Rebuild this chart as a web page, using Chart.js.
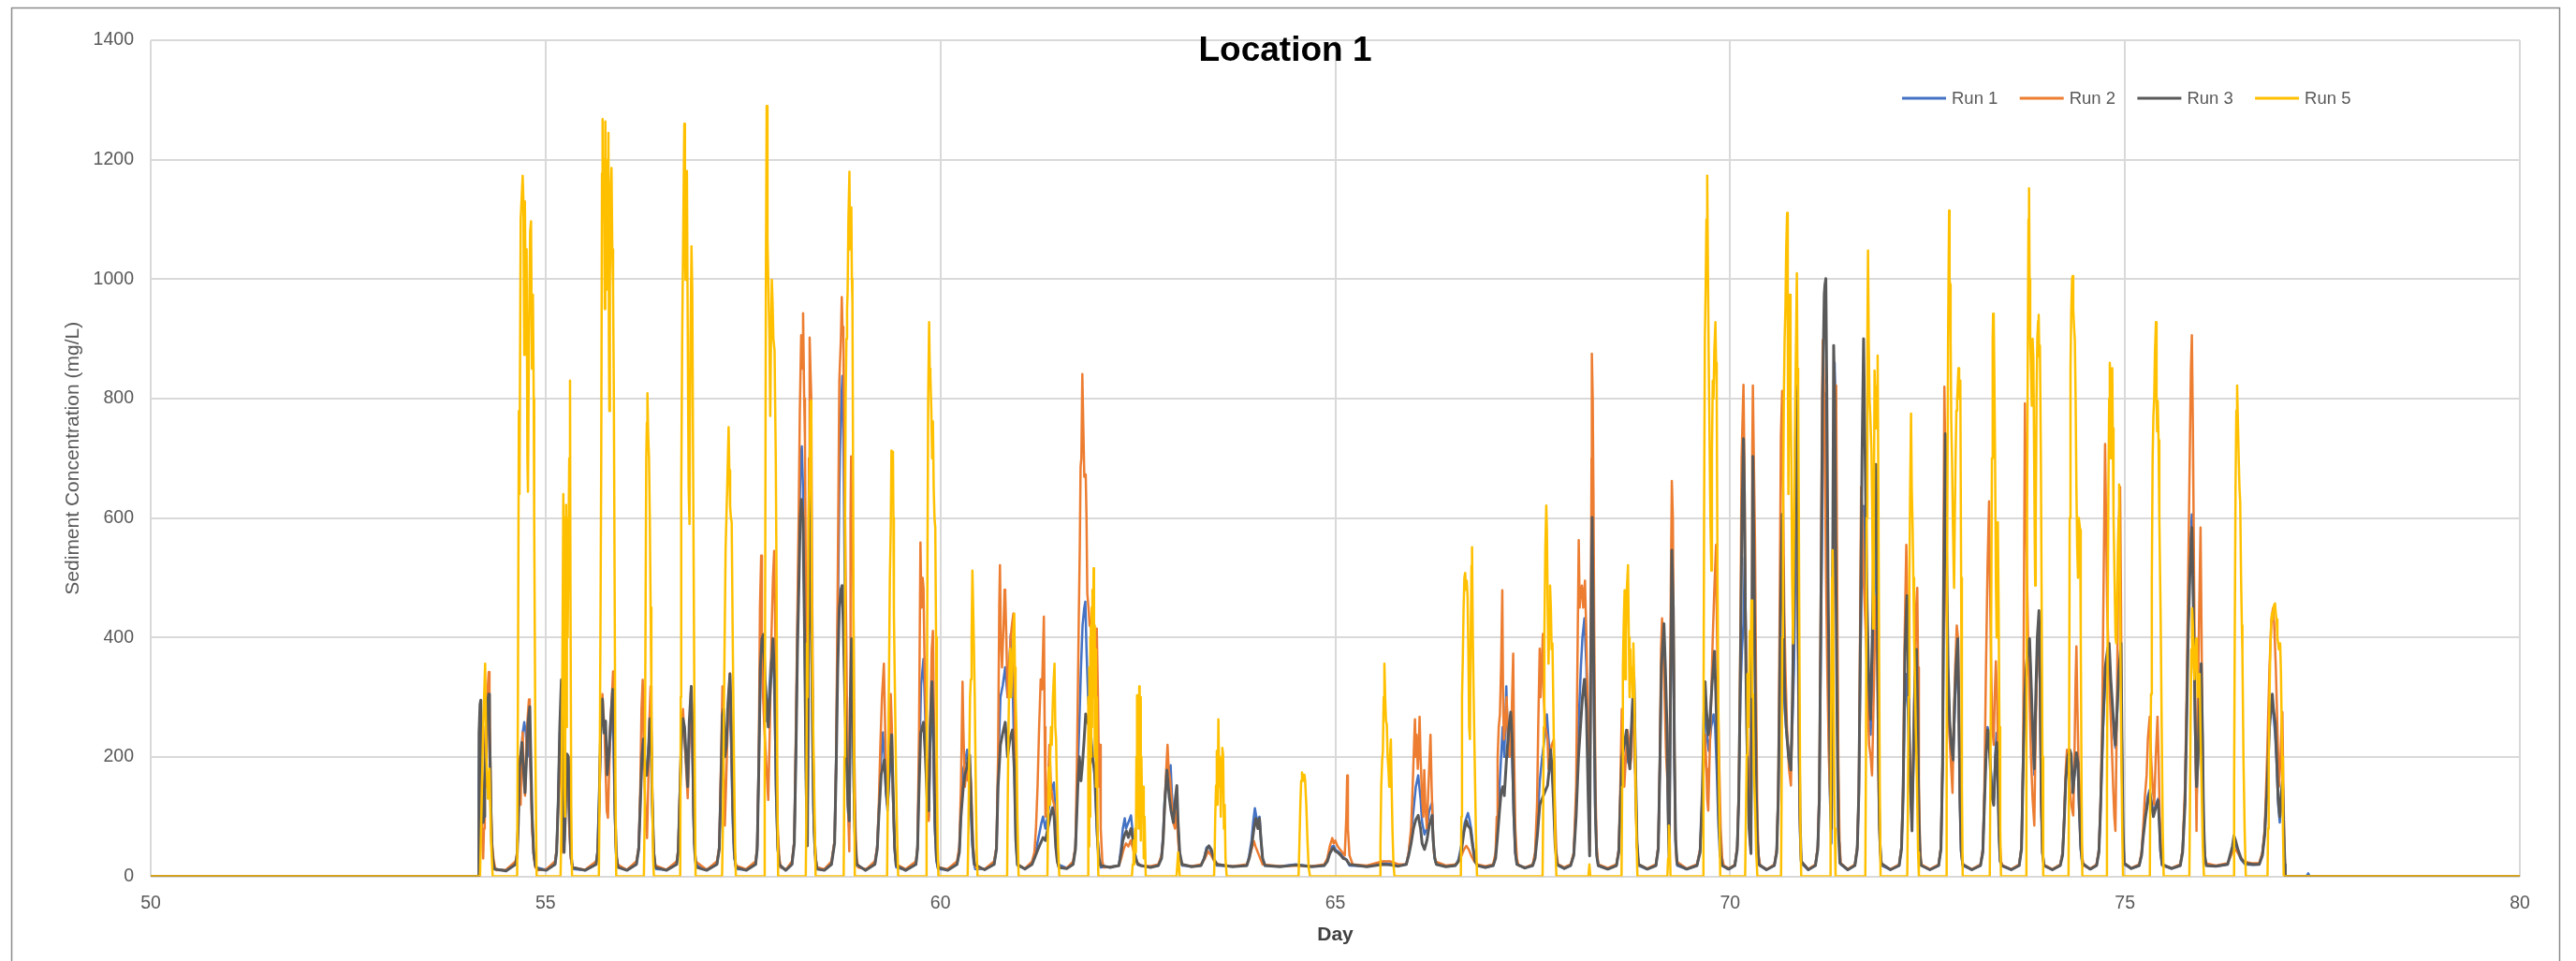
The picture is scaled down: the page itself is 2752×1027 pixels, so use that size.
<!DOCTYPE html>
<html>
<head>
<meta charset="utf-8">
<title>Location 1</title>
<script src="https://cdn.jsdelivr.net/npm/chart.js@4.4.1/dist/chart.umd.min.js"></script>
<style>
  html, body { margin: 0; padding: 0; background: #ffffff; }
  #wrap { width: 2752px; height: 1027px; position: relative; }
</style>
</head>
<body>
<div id="wrap"><canvas id="chart" width="2752" height="1027"></canvas></div>
<script>
// Labels
const chartTitle = 'Location 1';
const xAxisTitle = 'Day';
const yAxisTitle = 'Sediment Concentration (mg/L)';
const seriesNames = ['Run 1', 'Run 2', 'Run 3', 'Run 5'];

// Axis ranges and tick steps
const xRange = [50, 80];
const xStep = 5;
const yRange = [0, 1400];
const yStep = 200;

// [day, concentration mg/L]
const run1 = [
[50,0],[54.15,0],
[54.153,150],[54.165,270],[54.18,260],[54.19,180],[54.2,110],[54.22,90],[54.24,190],[54.26,250],[54.28,280],[54.3,160],[54.32,50],[54.34,20],[54.36,12],
[54.5,10],
[54.62,20],[54.64,40],[54.655,100],[54.67,170],[54.69,200],[54.71,240],[54.73,258],[54.75,240],[54.77,200],[54.79,230],[54.81,180],[54.83,90],[54.85,35],[54.88,15],
[55.0,11],
[55.12,20],[55.14,45],[55.16,130],[55.18,240],[55.2,280],[55.22,90],[55.24,60],[55.26,150],[55.28,180],[55.3,90],[55.32,30],[55.35,12],
[55.5,10],
[55.64,20],[55.66,45],[55.68,140],[55.7,250],[55.72,260],[55.74,250],[55.76,229],[55.78,180],[55.8,190],[55.83,250],[55.855,270],[55.87,150],[55.89,40],[55.92,15],
[56.03,11],
[56.15,20],[56.18,50],[56.2,130],[56.22,200],[56.24,220],[56.26,170],[56.28,180],[56.3,210],[56.32,240],[56.34,200],[56.36,70],[56.38,25],[56.4,12],
[56.53,11],
[56.66,20],[56.68,45],[56.7,140],[56.72,220],[56.74,260],[56.76,230],[56.78,190],[56.8,170],[56.82,240],[56.845,280],[56.86,200],[56.88,60],[56.9,20],
[57.04,11],
[57.17,20],[57.2,50],[57.22,160],[57.24,250],[57.26,240],[57.28,200],[57.3,250],[57.33,300],[57.35,220],[57.37,90],[57.39,30],[57.42,12],
[57.54,11],
[57.66,20],[57.68,50],[57.7,190],[57.72,330],[57.74,380],[57.76,350],[57.78,300],[57.8,260],[57.83,300],[57.85,355],[57.88,380],[57.9,300],[57.92,130],[57.94,45],[57.97,15],
[58.05,11],
[58.12,20],[58.15,60],[58.17,220],[58.19,420],[58.21,560],[58.23,700],[58.245,720],[58.26,650],[58.28,420],[58.3,150],[58.316,60],[58.33,420],[58.344,640],[58.36,500],[58.375,300],[58.39,120],[58.41,40],[58.44,15],
[58.53,11],
[58.62,20],[58.66,60],[58.68,200],[58.7,420],[58.72,650],[58.74,780],[58.759,838],[58.775,700],[58.79,450],[58.81,250],[58.83,110],[58.846,80],[58.86,280],[58.875,390],[58.89,280],[58.905,130],[58.92,50],[58.94,18],
[59.05,11],
[59.17,20],[59.2,50],[59.22,110],[59.25,200],[59.272,241],[59.29,200],[59.31,140],[59.33,110],[59.36,180],[59.38,210],[59.4,130],[59.42,45],[59.44,15],
[59.56,11],
[59.69,20],[59.71,50],[59.73,180],[59.755,320],[59.786,364],[59.81,260],[59.835,150],[59.853,100],[59.87,220],[59.893,300],[59.91,220],[59.93,80],[59.95,25],[59.97,12],
[60.09,11],
[60.21,20],[60.24,45],[60.26,110],[60.29,180],[60.31,190],[60.339,212],[60.36,180],[60.38,130],[60.4,60],[60.42,25],[60.44,12],
[60.56,12],
[60.68,20],[60.71,50],[60.73,170],[60.76,300],[60.79,320],[60.82,350],[60.85,300],[60.87,350],[60.892,406],[60.91,350],[60.935,200],[60.955,60],[60.975,18],
[61.07,13],
[61.16,20],[61.19,35],[61.22,50],[61.25,70],[61.28,90],[61.3,100],[61.33,80],[61.37,110],[61.4,140],[61.437,157],[61.45,120],[61.47,50],[61.49,20],
[61.6,14],
[61.68,20],[61.71,50],[61.74,180],[61.76,260],[61.78,350],[61.8,420],[61.821,449],[61.835,460],[61.85,380],[61.87,300],[61.9,250],[61.93,200],[61.96,160],[61.98,80],[62.0,30],[62.03,15],
[62.15,16],
[62.26,18],[62.29,50],[62.31,80],[62.334,97],[62.35,80],[62.38,90],[62.413,102],[62.43,80],[62.46,40],[62.5,20],[62.54,18],
[62.66,16],
[62.76,18],[62.8,35],[62.82,70],[62.84,130],[62.87,170],[62.9,180],[62.915,186],[62.93,140],[62.95,100],[62.975,120],[62.99,140],[63.01,80],[63.03,35],[63.06,18],
[63.18,17],
[63.3,18],[63.34,30],[63.37,48],[63.4,51],[63.43,40],[63.47,25],[63.5,18],
[63.7,17],
[63.88,18],[63.91,35],[63.94,60],[63.96,90],[63.982,114],[64.0,100],[64.02,90],[64.04,100],[64.06,60],[64.08,30],[64.11,18],
[64.3,17],[64.5,20],[64.7,17],
[64.86,18],[64.9,28],[64.93,42],[64.96,50],[64.98,51],[65.0,45],[65.03,42],[65.07,38],[65.1,32],[65.14,28],[65.18,18],
[65.4,17],[65.6,22],[65.7,21],[65.8,18],
[65.9,20],[65.93,40],[65.96,70],[65.99,110],[66.02,150],[66.05,169],[66.08,130],[66.1,90],[66.13,70],[66.16,80],[66.19,110],[66.226,123],[66.24,60],[66.26,30],[66.28,20],
[66.4,17],
[66.52,18],[66.56,28],[66.6,55],[66.64,90],[66.68,106],[66.7,95],[66.72,80],[66.75,45],[66.78,22],[66.81,18],
[66.9,15],
[67.0,18],[67.03,35],[67.05,80],[67.08,150],[67.1,200],[67.12,250],[67.14,200],[67.166,318],[67.18,250],[67.2,200],[67.22,240],[67.24,200],[67.26,100],[67.28,40],[67.3,20],
[67.4,14],
[67.5,18],[67.53,35],[67.56,90],[67.59,160],[67.62,200],[67.65,230],[67.68,271],[67.7,230],[67.72,200],[67.74,180],[67.76,150],[67.78,80],[67.8,30],[67.82,18],
[67.9,13],
[67.98,18],[68.02,38],[68.05,120],[68.08,250],[68.11,350],[68.13,400],[68.155,432],[68.18,350],[68.2,200],[68.221,60],[68.235,400],[68.249,656],[68.26,500],[68.275,300],[68.29,120],[68.31,40],[68.33,18],
[68.45,12],
[68.56,18],[68.59,45],[68.61,130],[68.63,210],[68.66,230],[68.69,230],[68.71,190],[68.73,190],[68.76,270],[68.78,300],[68.8,180],[68.82,55],[68.84,18],
[68.95,12],
[69.06,18],[69.09,50],[69.11,190],[69.13,360],[69.15,398],[69.17,340],[69.2,240],[69.215,110],[69.228,40],[69.245,280],[69.265,500],[69.28,420],[69.295,180],[69.31,50],[69.33,18],
[69.45,12],
[69.58,18],[69.62,45],[69.65,140],[69.67,250],[69.69,280],[69.71,230],[69.73,210],[69.76,250],[69.79,271],[69.81,250],[69.83,180],[69.85,90],[69.87,35],[69.9,18],
[69.98,12],
[70.06,18],[70.09,50],[70.11,140],[70.13,300],[70.15,380],[70.17,424],[70.185,534],[70.2,400],[70.215,250],[70.23,150],[70.25,70],[70.264,50],[70.275,300],[70.29,500],[70.305,450],[70.32,300],[70.335,130],[70.35,50],[70.37,18],
[70.46,11],
[70.56,18],[70.59,45],[70.61,140],[70.63,300],[70.65,400],[70.67,350],[70.69,280],[70.72,230],[70.75,200],[70.77,190],[70.79,260],[70.809,347],[70.825,500],[70.84,600],[70.855,450],[70.87,200],[70.885,70],[70.9,22],
[70.99,11],
[71.08,18],[71.11,50],[71.13,140],[71.15,400],[71.17,650],[71.185,780],[71.204,809],[71.22,600],[71.24,350],[71.26,150],[71.275,80],[71.283,55],[71.3,500],[71.323,860],[71.335,780],[71.35,450],[71.365,200],[71.38,60],[71.4,20],
[71.49,11],
[71.58,18],[71.61,50],[71.63,140],[71.65,350],[71.67,550],[71.69,620],[71.71,500],[71.73,380],[71.76,260],[71.78,237],[71.8,330],[71.83,500],[71.848,560],[71.865,400],[71.88,180],[71.9,50],[71.92,18],
[72.03,11],
[72.14,18],[72.17,50],[72.19,140],[72.21,280],[72.231,339],[72.25,280],[72.27,180],[72.3,100],[72.32,180],[72.345,300],[72.365,330],[72.38,200],[72.395,70],[72.41,25],[72.43,18],
[72.53,11],
[72.64,18],[72.67,50],[72.69,190],[72.705,450],[72.725,650],[72.74,500],[72.76,320],[72.78,240],[72.8,200],[72.82,190],[72.84,260],[72.86,330],[72.88,370],[72.895,280],[72.91,120],[72.925,40],[72.945,18],
[73.06,11],
[73.17,18],[73.2,45],[73.22,130],[73.24,210],[73.26,250],[73.28,240],[73.3,180],[73.32,140],[73.34,130],[73.36,210],[73.375,240],[73.39,170],[73.405,70],[73.42,25],[73.44,18],
[73.56,11],
[73.66,18],[73.69,50],[73.71,190],[73.73,290],[73.75,330],[73.775,360],[73.795,370],[73.815,300],[73.835,230],[73.852,170],[73.87,280],[73.89,370],[73.91,400],[73.925,300],[73.94,120],[73.955,40],[73.975,18],
[74.08,11],
[74.18,18],[74.21,40],[74.23,95],[74.25,165],[74.275,200],[74.3,205],[74.32,190],[74.34,150],[74.36,170],[74.385,200],[74.405,180],[74.42,110],[74.44,45],[74.46,20],
[74.56,12],
[74.64,18],[74.67,45],[74.69,115],[74.72,240],[74.75,330],[74.78,360],[74.8,370],[74.82,320],[74.845,270],[74.865,230],[74.88,215],[74.9,270],[74.92,330],[74.945,370],[74.96,230],[74.975,75],[74.99,20],
[75.08,13],
[75.18,18],[75.21,38],[75.23,70],[75.26,110],[75.29,135],[75.313,145],[75.33,130],[75.36,105],[75.39,120],[75.42,130],[75.435,90],[75.45,40],[75.47,18],
[75.59,13],
[75.7,18],[75.73,45],[75.76,130],[75.78,270],[75.8,420],[75.825,550],[75.847,606],[75.86,520],[75.875,380],[75.89,230],[75.906,130],[75.925,190],[75.945,290],[75.965,340],[75.98,240],[75.995,90],[76.01,30],[76.03,18],
[76.15,17],
[76.3,20],[76.36,45],[76.38,60],[76.4,55],[76.43,40],[76.47,28],[76.52,20],
[76.62,19],
[76.7,20],[76.74,38],[76.77,75],[76.8,160],[76.83,260],[76.86,290],[76.88,270],[76.9,240],[76.92,190],[76.94,120],[76.96,90],[76.98,130],[76.995,150],[77.01,70],[77.025,15],[77.03,0],[77.3,0],[77.32,5],[77.34,0],[80,0]
];

const run2 = [
[50,0],[54.155,0],
[54.16,100],[54.17,200],[54.18,220],[54.19,120],[54.2,60],[54.21,30],[54.22,80],[54.23,180],[54.24,250],[54.25,150],[54.26,250],[54.27,320],[54.28,342],[54.29,300],[54.3,200],[54.31,120],[54.32,60],[54.34,30],[54.36,15],[54.38,10],
[54.5,11],
[54.62,25],[54.64,40],[54.655,100],[54.665,200],[54.675,150],[54.685,120],[54.695,200],[54.71,241],[54.72,190],[54.73,150],[54.74,135],[54.75,180],[54.76,230],[54.775,270],[54.79,296],[54.8,250],[54.815,150],[54.83,80],[54.85,35],[54.87,15],[54.9,10],
[55.01,12],
[55.12,25],[55.14,45],[55.16,120],[55.18,200],[55.19,235],[55.2,150],[55.21,60],[55.22,40],[55.24,100],[55.26,180],[55.28,203],[55.29,150],[55.3,80],[55.32,30],[55.34,15],
[55.5,11],
[55.64,25],[55.66,40],[55.68,120],[55.7,250],[55.72,305],[55.73,280],[55.745,250],[55.76,180],[55.775,110],[55.79,98],[55.8,150],[55.82,250],[55.84,300],[55.855,343],[55.865,280],[55.875,150],[55.89,50],[55.91,20],
[56.03,11],
[56.15,25],[56.18,50],[56.2,150],[56.215,280],[56.23,329],[56.24,250],[56.255,150],[56.27,90],[56.285,64],[56.3,150],[56.315,260],[56.33,318],[56.34,250],[56.355,120],[56.37,40],[56.39,18],
[56.53,11],
[56.66,25],[56.68,45],[56.7,140],[56.72,240],[56.74,280],[56.76,230],[56.78,180],[56.8,131],[56.82,220],[56.84,309],[56.855,280],[56.87,140],[56.885,60],[56.9,25],
[57.04,11],
[57.17,25],[57.2,50],[57.22,180],[57.24,318],[57.25,250],[57.26,120],[57.27,85],[57.285,150],[57.3,220],[57.32,300],[57.335,340],[57.35,250],[57.37,120],[57.39,40],[57.41,18],
[57.54,12],
[57.66,25],[57.68,50],[57.7,200],[57.715,450],[57.73,537],[57.74,400],[57.755,300],[57.77,250],[57.79,200],[57.81,150],[57.82,128],[57.84,250],[57.86,400],[57.88,500],[57.895,545],[57.91,400],[57.925,200],[57.94,80],[57.96,30],[57.98,15],
[58.05,12],
[58.12,25],[58.15,60],[58.17,250],[58.19,450],[58.206,610],[58.22,780],[58.237,906],[58.25,850],[58.261,943],[58.275,800],[58.285,729],[58.295,500],[58.305,250],[58.316,76],[58.325,300],[58.335,700],[58.344,902],[58.354,850],[58.364,805],[58.375,500],[58.39,200],[58.403,80],[58.42,30],[58.44,15],
[58.53,12],
[58.62,25],[58.66,60],[58.68,200],[58.7,500],[58.72,830],[58.74,900],[58.751,970],[58.76,920],[58.771,906],[58.785,700],[58.8,500],[58.815,300],[58.83,120],[58.846,42],[58.855,300],[58.862,600],[58.869,703],[58.88,600],[58.897,474],[58.91,200],[58.925,80],[58.94,30],[58.96,15],
[59.06,12],
[59.17,25],[59.2,50],[59.22,120],[59.24,220],[59.26,300],[59.284,356],[59.3,250],[59.315,150],[59.33,119],[59.35,200],[59.371,305],[59.385,250],[59.4,130],[59.42,50],[59.44,20],
[59.56,12],
[59.69,25],[59.71,50],[59.73,250],[59.747,559],[59.76,450],[59.775,500],[59.786,483],[59.8,350],[59.82,250],[59.84,150],[59.853,93],[59.87,250],[59.89,380],[59.905,411],[59.92,250],[59.94,80],[59.96,30],[59.98,15],
[60.09,12],
[60.21,25],[60.24,50],[60.26,150],[60.28,326],[60.29,250],[60.31,150],[60.33,180],[60.35,160],[60.37,190],[60.39,150],[60.41,60],[60.43,25],[60.45,15],
[60.56,12],
[60.68,25],[60.71,50],[60.73,200],[60.745,450],[60.754,521],[60.765,400],[60.78,350],[60.8,420],[60.812,480],[60.821,474],[60.835,400],[60.85,300],[60.87,350],[60.89,400],[60.905,420],[60.924,440],[60.935,350],[60.95,150],[60.965,50],[60.98,20],
[61.07,13],
[61.16,25],[61.19,40],[61.21,80],[61.23,150],[61.25,250],[61.27,330],[61.287,313],[61.3,380],[61.31,435],[61.32,250],[61.33,100],[61.35,120],[61.37,180],[61.38,220],[61.4,150],[61.42,130],[61.44,120],[61.46,60],[61.48,25],[61.5,15],
[61.6,14],
[61.68,25],[61.71,50],[61.73,200],[61.753,440],[61.765,550],[61.775,686],[61.785,700],[61.797,841],[61.81,750],[61.822,669],[61.84,673],[61.85,600],[61.86,474],[61.875,450],[61.89,420],[61.91,415],[61.93,300],[61.95,350],[61.965,400],[61.98,415],[61.995,300],[62.01,150],[62.02,220],[62.03,80],[62.05,25],[62.07,15],
[62.17,16],
[62.26,18],[62.29,30],[62.32,45],[62.35,55],[62.38,50],[62.41,60],[62.44,45],[62.47,30],[62.5,22],[62.54,18],
[62.66,17],
[62.76,20],[62.8,35],[62.82,60],[62.84,120],[62.86,180],[62.876,220],[62.89,180],[62.91,160],[62.93,120],[62.95,90],[62.97,80],[62.99,110],[63.01,60],[63.03,30],[63.06,20],
[63.18,17],
[63.3,20],[63.35,30],[63.39,42],[63.43,35],[63.47,25],[63.52,20],
[63.7,17],
[63.88,20],[63.91,30],[63.94,45],[63.97,59],[63.99,50],[64.02,40],[64.05,30],[64.08,20],
[64.3,17],[64.5,18],[64.7,17],
[64.86,20],[64.9,30],[64.93,50],[64.962,64],[64.98,55],[65.0,60],[65.03,50],[65.06,45],[65.09,40],[65.12,35],[65.14,100],[65.151,169],[65.16,80],[65.18,35],[65.22,20],
[65.4,18],[65.6,25],[65.7,25],[65.8,20],
[65.9,20],[65.93,40],[65.96,80],[65.98,150],[66.0,230],[66.009,263],[66.02,200],[66.029,237],[66.045,180],[66.058,220],[66.068,267],[66.08,200],[66.1,130],[66.115,100],[66.127,178],[66.14,120],[66.16,80],[66.18,150],[66.195,200],[66.206,237],[66.22,150],[66.235,80],[66.25,40],[66.27,25],
[66.4,18],
[66.52,20],[66.56,25],[66.6,35],[66.63,45],[66.66,51],[66.69,45],[66.72,35],[66.76,25],[66.8,20],
[66.9,17],
[67.0,20],[67.03,40],[67.045,100],[67.056,199],[67.07,250],[67.085,271],[67.1,350],[67.115,479],[67.125,300],[67.135,229],[67.15,250],[67.17,300],[67.19,220],[67.21,200],[67.23,250],[67.245,330],[67.253,373],[67.265,200],[67.28,80],[67.3,30],[67.32,18],
[67.41,15],
[67.5,20],[67.53,40],[67.555,120],[67.57,250],[67.589,381],[67.6,300],[67.615,350],[67.629,406],[67.64,300],[67.66,250],[67.688,229],[67.7,180],[67.72,200],[67.74,220],[67.767,229],[67.78,120],[67.8,40],[67.82,20],
[67.9,15],
[67.98,20],[68.02,40],[68.05,150],[68.07,400],[68.083,563],[68.095,450],[68.11,480],[68.123,487],[68.14,450],[68.162,495],[68.18,400],[68.2,250],[68.21,100],[68.221,42],[68.235,400],[68.245,700],[68.249,875],[68.26,800],[68.269,644],[68.28,400],[68.295,150],[68.31,50],[68.33,20],
[68.45,14],
[68.56,20],[68.59,45],[68.61,150],[68.628,280],[68.64,250],[68.66,150],[68.68,200],[68.7,245],[68.715,230],[68.73,180],[68.75,200],[68.77,280],[68.785,300],[68.8,150],[68.82,50],[68.84,20],
[68.95,13],
[69.06,20],[69.09,50],[69.11,200],[69.125,380],[69.138,432],[69.15,400],[69.17,300],[69.19,200],[69.21,150],[69.228,90],[69.24,300],[69.25,500],[69.262,662],[69.275,600],[69.29,300],[69.305,80],[69.32,25],
[69.45,13],
[69.58,20],[69.62,45],[69.65,120],[69.67,200],[69.683,237],[69.7,180],[69.71,130],[69.723,110],[69.74,200],[69.76,300],[69.78,400],[69.8,480],[69.822,555],[69.83,450],[69.841,339],[69.86,200],[69.88,80],[69.9,30],[69.92,18],
[69.99,13],
[70.06,20],[70.09,50],[70.11,150],[70.13,400],[70.145,700],[70.157,762],[70.169,823],[70.18,700],[70.195,450],[70.21,300],[70.225,200],[70.24,120],[70.256,51],[70.27,400],[70.28,700],[70.288,822],[70.3,700],[70.315,559],[70.33,300],[70.345,100],[70.36,35],[70.38,18],
[70.47,12],
[70.56,20],[70.59,45],[70.61,150],[70.625,400],[70.643,737],[70.659,813],[70.67,650],[70.685,450],[70.7,350],[70.72,250],[70.745,180],[70.77,152],[70.79,300],[70.81,550],[70.83,700],[70.841,760],[70.855,500],[70.87,250],[70.885,80],[70.9,25],
[70.99,12],
[71.08,20],[71.11,50],[71.13,150],[71.15,500],[71.165,800],[71.173,898],[71.185,850],[71.2,700],[71.215,500],[71.23,350],[71.25,200],[71.27,120],[71.285,100],[71.3,400],[71.315,700],[71.33,800],[71.343,822],[71.355,500],[71.37,200],[71.385,60],[71.4,22],
[71.49,12],
[71.58,20],[71.61,50],[71.63,150],[71.645,400],[71.659,652],[71.675,600],[71.69,500],[71.705,450],[71.72,400],[71.74,300],[71.76,220],[71.78,200],[71.797,169],[71.81,250],[71.83,380],[71.85,470],[71.865,350],[71.88,150],[71.9,40],[71.92,20],
[72.03,12],
[72.14,20],[72.17,50],[72.19,150],[72.21,400],[72.231,555],[72.245,450],[72.26,300],[72.28,180],[72.3,120],[72.32,200],[72.34,350],[72.355,450],[72.37,483],[72.38,350],[72.39,150],[72.405,50],[72.42,20],
[72.53,12],
[72.64,20],[72.67,50],[72.69,200],[72.7,500],[72.713,820],[72.725,700],[72.74,450],[72.76,300],[72.78,230],[72.8,180],[72.816,140],[72.83,250],[72.85,350],[72.87,420],[72.885,400],[72.9,250],[72.915,100],[72.93,35],[72.95,20],
[73.06,12],
[73.17,20],[73.2,45],[73.22,150],[73.24,350],[73.26,520],[73.279,628],[73.29,500],[73.305,350],[73.32,250],[73.338,220],[73.35,300],[73.365,360],[73.38,300],[73.395,180],[73.41,70],[73.43,25],[73.45,18],
[73.56,12],
[73.66,20],[73.69,50],[73.71,200],[73.72,450],[73.733,792],[73.745,650],[73.76,500],[73.775,380],[73.792,300],[73.81,200],[73.83,130],[73.852,85],[73.87,250],[73.89,380],[73.91,424],[73.925,300],[73.94,120],[73.955,40],[73.97,20],
[74.08,12],
[74.18,20],[74.21,40],[74.23,100],[74.25,180],[74.266,212],[74.28,200],[74.3,150],[74.32,120],[74.345,102],[74.36,200],[74.375,330],[74.385,385],[74.395,300],[74.41,200],[74.425,150],[74.44,80],[74.46,30],[74.48,18],
[74.56,13],
[74.64,20],[74.67,45],[74.69,120],[74.71,250],[74.73,500],[74.748,724],[74.76,600],[74.775,450],[74.79,380],[74.81,300],[74.83,230],[74.85,150],[74.865,100],[74.879,76],[74.895,250],[74.91,450],[74.925,600],[74.938,652],[74.95,450],[74.96,200],[74.975,60],[74.99,22],
[75.08,14],
[75.18,20],[75.21,40],[75.23,80],[75.25,130],[75.274,169],[75.29,230],[75.313,267],[75.33,200],[75.35,150],[75.37,120],[75.39,200],[75.412,267],[75.425,200],[75.44,100],[75.46,35],[75.48,18],
[75.59,14],
[75.7,20],[75.73,45],[75.76,150],[75.78,300],[75.8,500],[75.82,700],[75.835,850],[75.847,906],[75.86,750],[75.875,500],[75.89,250],[75.906,76],[75.92,250],[75.94,450],[75.957,584],[75.97,400],[75.985,150],[76.0,50],[76.02,22],
[76.15,18],
[76.3,22],[76.36,40],[76.4,45],[76.45,35],[76.5,25],[76.6,22],
[76.7,22],[76.74,40],[76.77,80],[76.8,200],[76.83,350],[76.855,430],[76.874,449],[76.89,420],[76.91,350],[76.93,250],[76.95,150],[76.97,200],[76.985,260],[76.993,275],[77.005,150],[77.02,40],[77.03,0],[80,0]
];

const run3 = [
[50,0],[54.15,0],
[54.158,240],[54.17,288],[54.18,295],[54.19,200],[54.2,120],[54.21,90],[54.22,100],[54.23,150],[54.24,200],[54.25,260],[54.265,290],[54.28,305],[54.29,250],[54.3,180],[54.31,100],[54.32,50],[54.335,25],[54.35,12],
[54.5,9],
[54.62,20],[54.64,35],[54.655,90],[54.67,180],[54.69,210],[54.7,224],[54.72,180],[54.74,140],[54.76,200],[54.78,260],[54.8,284],[54.81,220],[54.83,100],[54.85,40],[54.87,18],[54.9,12],
[55.01,10],
[55.12,20],[55.14,40],[55.16,120],[55.18,250],[55.2,329],[55.21,250],[55.22,100],[55.235,40],[55.25,100],[55.27,205],[55.29,200],[55.3,120],[55.32,40],[55.34,15],
[55.5,10],
[55.64,20],[55.66,40],[55.68,130],[55.7,260],[55.72,297],[55.74,240],[55.76,260],[55.78,170],[55.8,200],[55.82,250],[55.85,313],[55.865,250],[55.88,100],[55.9,30],[55.92,15],
[56.03,10],
[56.15,20],[56.18,45],[56.2,120],[56.22,200],[56.24,230],[56.26,180],[56.28,169],[56.3,200],[56.32,264],[56.335,250],[56.35,130],[56.37,40],[56.39,15],
[56.53,10],
[56.66,20],[56.68,40],[56.7,130],[56.72,230],[56.74,264],[56.76,250],[56.78,200],[56.8,150],[56.82,260],[56.845,318],[56.86,250],[56.875,100],[56.89,40],[56.91,15],
[57.04,10],
[57.17,20],[57.2,45],[57.22,150],[57.24,270],[57.255,280],[57.27,200],[57.29,220],[57.31,290],[57.335,339],[57.35,270],[57.37,120],[57.39,40],[57.41,15],
[57.54,10],
[57.66,20],[57.68,45],[57.7,180],[57.72,350],[57.74,398],[57.76,405],[57.78,330],[57.8,290],[57.82,250],[57.84,300],[57.86,350],[57.88,398],[57.9,330],[57.92,150],[57.94,50],[57.96,20],
[58.04,10],
[58.12,20],[58.15,55],[58.17,200],[58.19,380],[58.21,500],[58.225,600],[58.24,631],[58.26,600],[58.28,400],[58.3,150],[58.316,51],[58.33,400],[58.344,661],[58.355,500],[58.37,390],[58.385,200],[58.4,80],[58.42,25],[58.44,12],
[58.53,10],
[58.62,20],[58.66,55],[58.68,180],[58.7,350],[58.72,450],[58.74,480],[58.755,487],[58.77,420],[58.79,300],[58.81,200],[58.83,120],[58.846,93],[58.86,300],[58.875,398],[58.89,300],[58.905,150],[58.92,60],[58.94,20],
[59.05,10],
[59.17,20],[59.2,45],[59.22,100],[59.25,170],[59.29,195],[59.31,150],[59.33,120],[59.36,200],[59.383,237],[59.4,150],[59.42,50],[59.44,18],
[59.56,10],
[59.69,20],[59.71,45],[59.73,150],[59.75,240],[59.786,258],[59.81,200],[59.835,120],[59.853,110],[59.87,250],[59.893,326],[59.91,250],[59.93,90],[59.95,30],[59.97,15],
[60.09,10],
[60.21,20],[60.24,40],[60.26,100],[60.29,150],[60.31,170],[60.33,180],[60.355,200],[60.371,203],[60.39,120],[60.41,50],[60.43,20],
[60.56,11],
[60.68,20],[60.71,45],[60.73,150],[60.76,220],[60.79,240],[60.821,258],[60.85,200],[60.88,230],[60.912,245],[60.935,180],[60.955,60],[60.975,20],
[61.07,12],
[61.16,20],[61.19,30],[61.22,40],[61.25,50],[61.28,59],[61.3,65],[61.33,60],[61.36,80],[61.39,100],[61.42,115],[61.44,100],[61.46,50],[61.48,25],[61.5,15],
[61.6,13],
[61.68,20],[61.71,45],[61.74,150],[61.76,200],[61.78,160],[61.8,190],[61.82,229],[61.84,272],[61.86,260],[61.89,250],[61.92,200],[61.95,180],[61.97,120],[61.99,60],[62.01,30],[62.03,18],
[62.15,15],
[62.26,18],[62.29,40],[62.31,60],[62.334,70],[62.354,76],[62.38,65],[62.413,80],[62.44,60],[62.47,30],[62.5,20],[62.54,18],
[62.66,15],
[62.76,18],[62.8,30],[62.82,60],[62.84,120],[62.868,178],[62.88,160],[62.9,130],[62.92,110],[62.95,90],[62.975,130],[62.994,152],[63.01,90],[63.03,40],[63.06,20],
[63.18,16],
[63.3,18],[63.34,30],[63.37,45],[63.401,51],[63.43,45],[63.46,30],[63.5,20],
[63.7,16],
[63.88,18],[63.91,30],[63.94,50],[63.97,80],[63.994,97],[64.02,80],[64.04,97],[64.06,60],[64.08,30],[64.11,18],
[64.3,16],[64.5,19],[64.7,16],
[64.86,18],[64.9,25],[64.93,38],[64.96,45],[64.981,47],[65.0,42],[65.03,40],[65.07,35],[65.1,30],[65.14,28],[65.18,20],
[65.4,16],[65.6,20],[65.7,19],[65.8,17],
[65.9,20],[65.93,35],[65.96,55],[65.99,80],[66.02,95],[66.05,102],[66.08,80],[66.1,55],[66.13,45],[66.16,60],[66.19,85],[66.226,102],[66.24,60],[66.26,30],[66.28,20],
[66.4,16],
[66.52,18],[66.56,25],[66.6,45],[66.63,75],[66.661,93],[66.68,85],[66.71,80],[66.74,50],[66.77,25],[66.8,18],
[66.9,15],
[67.0,18],[67.03,30],[67.05,60],[67.08,110],[67.1,140],[67.12,150],[67.14,135],[67.17,200],[67.2,250],[67.222,275],[67.24,230],[67.26,110],[67.28,40],[67.3,20],
[67.4,14],
[67.5,18],[67.53,30],[67.56,70],[67.59,120],[67.62,130],[67.65,140],[67.688,152],[67.71,180],[67.727,212],[67.745,180],[67.765,120],[67.785,50],[67.81,20],
[67.9,13],
[67.98,18],[68.02,35],[68.05,100],[68.08,200],[68.11,260],[68.13,300],[68.155,330],[68.18,280],[68.2,150],[68.221,34],[68.235,350],[68.253,601],[68.265,450],[68.28,250],[68.295,100],[68.31,35],[68.33,18],
[68.45,12],
[68.56,18],[68.59,40],[68.61,120],[68.63,200],[68.66,220],[68.688,245],[68.71,200],[68.73,180],[68.76,280],[68.782,335],[68.8,200],[68.82,60],[68.84,20],
[68.95,12],
[69.06,18],[69.09,45],[69.11,180],[69.13,350],[69.162,423],[69.18,350],[69.2,250],[69.215,100],[69.228,30],[69.245,300],[69.262,546],[69.28,450],[69.295,200],[69.31,60],[69.33,20],
[69.45,12],
[69.58,18],[69.62,40],[69.65,150],[69.67,280],[69.683,326],[69.7,280],[69.723,237],[69.74,250],[69.77,320],[69.802,377],[69.82,300],[69.84,200],[69.86,90],[69.88,35],[69.9,18],
[69.98,12],
[70.06,18],[70.09,45],[70.11,130],[70.13,350],[70.15,600],[70.169,733],[70.18,650],[70.195,400],[70.21,250],[70.225,150],[70.24,80],[70.264,38],[70.275,400],[70.288,703],[70.3,550],[70.315,350],[70.33,150],[70.345,60],[70.365,20],
[70.46,11],
[70.56,18],[70.59,40],[70.61,130],[70.63,350],[70.645,500],[70.659,606],[70.675,450],[70.69,320],[70.71,250],[70.74,200],[70.77,178],[70.79,300],[70.81,500],[70.825,700],[70.841,822],[70.855,600],[70.87,300],[70.885,100],[70.9,25],
[70.99,11],
[71.08,18],[71.11,45],[71.13,130],[71.15,450],[71.17,800],[71.192,974],[71.2,990],[71.212,1001],[71.225,800],[71.24,500],[71.255,300],[71.27,150],[71.283,80],[71.295,400],[71.311,889],[71.325,800],[71.34,500],[71.355,250],[71.37,80],[71.39,22],
[71.49,11],
[71.58,18],[71.61,45],[71.63,140],[71.65,400],[71.67,700],[71.69,900],[71.705,750],[71.718,618],[71.735,450],[71.755,330],[71.777,263],[71.8,400],[71.825,600],[71.848,690],[71.86,500],[71.875,250],[71.89,80],[71.91,22],
[72.03,11],
[72.14,18],[72.17,45],[72.19,130],[72.215,380],[72.239,470],[72.255,350],[72.275,180],[72.303,76],[72.32,200],[72.34,330],[72.36,380],[72.375,280],[72.39,100],[72.405,35],[72.42,18],
[72.53,11],
[72.64,18],[72.67,45],[72.69,180],[72.705,500],[72.725,741],[72.74,550],[72.76,350],[72.78,260],[72.8,220],[72.824,195],[72.84,280],[72.86,350],[72.883,398],[72.895,300],[72.91,130],[72.925,45],[72.945,20],
[73.06,11],
[73.17,18],[73.2,40],[73.22,120],[73.24,200],[73.259,245],[73.28,220],[73.3,170],[73.32,130],[73.338,119],[73.36,200],[73.377,224],[73.39,160],[73.405,70],[73.42,25],[73.44,18],
[73.56,11],
[73.66,18],[73.69,45],[73.71,180],[73.73,300],[73.75,350],[73.775,390],[73.792,398],[73.81,330],[73.83,250],[73.852,180],[73.87,300],[73.89,400],[73.911,445],[73.925,330],[73.94,130],[73.955,40],[73.975,18],
[74.08,11],
[74.18,18],[74.21,35],[74.23,90],[74.25,160],[74.275,200],[74.3,212],[74.318,205],[74.34,140],[74.36,170],[74.385,207],[74.405,190],[74.42,120],[74.44,50],[74.46,22],
[74.56,12],
[74.64,18],[74.67,40],[74.69,110],[74.72,250],[74.75,350],[74.78,380],[74.8,390],[74.82,330],[74.845,280],[74.865,240],[74.879,220],[74.9,280],[74.92,340],[74.95,390],[74.96,250],[74.975,80],[74.99,22],
[75.08,13],
[75.18,18],[75.21,35],[75.23,65],[75.26,100],[75.29,125],[75.313,140],[75.33,125],[75.36,100],[75.39,115],[75.42,127],[75.435,90],[75.45,45],[75.47,20],
[75.59,13],
[75.7,18],[75.73,40],[75.76,120],[75.78,250],[75.8,400],[75.825,520],[75.847,584],[75.86,500],[75.875,380],[75.89,250],[75.906,150],[75.925,200],[75.945,300],[75.965,356],[75.98,250],[75.995,100],[76.01,35],[76.03,18],
[76.15,17],
[76.3,20],[76.36,50],[76.38,68],[76.4,60],[76.43,45],[76.47,30],[76.52,22],
[76.62,20],
[76.7,20],[76.74,35],[76.77,70],[76.8,150],[76.83,250],[76.866,305],[76.88,280],[76.902,258],[76.92,200],[76.94,130],[76.96,100],[76.98,140],[76.995,160],[77.01,80],[77.025,20],[77.03,0],[80,0]
];

const run5 = [
[50,0],[54.17,0],
[54.19,120],[54.21,250],[54.235,356],[54.25,200],[54.27,130],[54.29,180],[54.31,60],[54.33,0],
[54.64,0],
[54.65,300],[54.662,779],[54.67,640],[54.685,1100],[54.71,1173],[54.72,1130],[54.73,873],[54.738,1130],[54.749,950],[54.76,1050],[54.77,700],[54.777,644],[54.79,900],[54.805,1080],[54.816,1097],[54.828,850],[54.84,974],[54.85,800],[54.856,601],[54.872,200],[54.887,0],
[55.19,0],
[55.2,80],[55.215,400],[55.225,640],[55.23,300],[55.235,601],[55.24,150],[55.245,500],[55.25,100],[55.255,560],[55.26,622],[55.265,250],[55.27,600],[55.28,400],[55.29,550],[55.3,700],[55.31,830],[55.315,500],[55.325,120],[55.335,0],
[55.675,0],
[55.685,150],[55.695,411],[55.705,700],[55.715,1177],[55.722,1268],[55.73,1100],[55.74,1200],[55.75,950],[55.757,1264],[55.765,1100],[55.776,983],[55.785,1200],[55.796,1245],[55.802,900],[55.808,779],[55.815,1000],[55.825,1150],[55.835,1186],[55.845,1050],[55.855,983],[55.865,800],[55.875,474],[55.885,150],[55.895,0],
[56.245,0],
[56.255,100],[56.265,400],[56.275,700],[56.283,760],[56.29,809],[56.3,737],[56.31,700],[56.32,600],[56.33,450],[56.34,300],[56.352,120],[56.362,30],[56.372,0],
[56.705,0],
[56.712,300],[56.718,644],[56.73,900],[56.745,1100],[56.757,1260],[56.765,1050],[56.772,999],[56.78,1100],[56.79,1181],[56.797,1000],[56.805,800],[56.812,650],[56.823,590],[56.835,900],[56.848,1055],[56.858,980],[56.868,700],[56.878,450],[56.888,200],[56.9,0],
[57.235,0],
[57.245,80],[57.26,300],[57.28,550],[57.3,650],[57.318,752],[57.327,680],[57.337,620],[57.347,600],[57.357,593],[57.37,400],[57.385,200],[57.4,50],[57.41,0],
[57.765,0],
[57.775,150],[57.783,600],[57.79,1000],[57.8,1290],[57.81,1070],[57.82,1000],[57.835,900],[57.845,771],[57.855,900],[57.865,999],[57.875,960],[57.885,900],[57.9,880],[57.915,700],[57.925,500],[57.935,150],[57.945,0],
[58.295,0],
[58.302,100],[58.31,390],[58.318,300],[58.33,600],[58.345,700],[58.357,796],[58.366,650],[58.375,400],[58.383,300],[58.395,200],[58.41,80],[58.42,0],
[58.775,0],
[58.785,200],[58.793,600],[58.8,800],[58.81,900],[58.818,949],[58.825,980],[58.835,1100],[58.848,1180],[58.855,1050],[58.862,1100],[58.872,1120],[58.879,1000],[58.886,960],[58.896,600],[58.906,200],[58.916,0],
[59.325,0],
[59.335,150],[59.35,350],[59.36,500],[59.371,580],[59.38,713],[59.39,650],[59.399,711],[59.405,600],[59.411,440],[59.42,350],[59.435,200],[59.45,80],[59.465,0],
[59.815,0],
[59.825,150],[59.835,500],[59.845,800],[59.857,928],[59.865,850],[59.873,838],[59.885,780],[59.895,700],[59.905,762],[59.915,650],[59.925,600],[59.935,584],[59.945,400],[59.955,200],[59.965,50],[59.975,0],
[60.345,0],
[60.355,80],[60.365,200],[60.375,300],[60.385,330],[60.395,400],[60.405,512],[60.415,450],[60.425,380],[60.435,300],[60.448,150],[60.46,40],[60.47,0],
[60.845,0],
[60.852,120],[60.862,250],[60.872,330],[60.884,381],[60.895,300],[60.91,350],[60.92,400],[60.935,440],[60.943,350],[60.952,300],[60.962,250],[60.975,100],[60.99,0],
[61.355,0],
[61.362,80],[61.37,182],[61.38,120],[61.39,200],[61.4,250],[61.41,220],[61.425,300],[61.435,330],[61.445,356],[61.455,250],[61.465,229],[61.475,150],[61.49,50],[61.505,0],
[61.865,0],
[61.87,100],[61.875,300],[61.88,50],[61.885,350],[61.89,100],[61.895,400],[61.9,150],[61.905,420],[61.91,200],[61.915,450],[61.92,250],[61.925,480],[61.93,300],[61.94,516],[61.945,350],[61.95,420],[61.955,200],[61.96,380],[61.97,150],[61.98,300],[61.99,80],[62.0,0],
[62.425,0],
[62.435,20],[62.445,60],[62.455,20],[62.465,80],[62.475,40],[62.482,200],[62.49,303],[62.495,100],[62.5,250],[62.51,80],[62.518,318],[62.523,150],[62.53,300],[62.537,60],[62.545,200],[62.555,100],[62.565,150],[62.575,30],[62.585,100],[62.6,0],
[62.99,0],[63.01,40],[63.03,0],
[63.465,0],
[63.472,30],[63.48,100],[63.49,152],[63.5,210],[63.51,120],[63.52,263],[63.53,150],[63.54,200],[63.55,100],[63.56,180],[63.57,215],[63.58,203],[63.59,80],[63.6,120],[63.61,30],[63.625,0],
[64.535,0],
[64.545,50],[64.558,120],[64.568,160],[64.579,174],[64.59,165],[64.6,160],[64.61,170],[64.618,161],[64.633,120],[64.648,60],[64.663,15],[64.68,0],
[65.565,0],
[65.572,50],[65.582,150],[65.594,195],[65.603,210],[65.613,300],[65.622,356],[65.632,300],[65.642,260],[65.653,254],[65.663,200],[65.673,180],[65.683,150],[65.693,200],[65.704,229],[65.714,150],[65.724,80],[65.737,20],[65.75,0],
[66.59,0],
[66.597,100],[66.605,300],[66.615,364],[66.625,450],[66.635,500],[66.645,508],[66.655,480],[66.665,495],[66.675,470],[66.685,380],[66.695,250],[66.705,230],[66.715,400],[66.725,520],[66.732,551],[66.742,400],[66.752,305],[66.765,200],[66.78,80],[66.795,0],
[67.625,0],
[67.632,100],[67.64,250],[67.648,406],[67.66,550],[67.672,621],[67.68,580],[67.69,450],[67.7,356],[67.71,420],[67.72,487],[67.73,450],[67.74,380],[67.75,390],[67.76,300],[67.77,200],[67.785,60],[67.8,0],
[68.205,0],[68.218,20],[68.23,0],
[68.625,0],
[68.633,150],[68.642,350],[68.652,420],[68.664,479],[68.672,330],[68.68,400],[68.692,480],[68.707,521],[68.717,400],[68.727,300],[68.737,380],[68.745,330],[68.755,350],[68.765,300],[68.775,390],[68.785,330],[68.798,200],[68.812,80],[68.826,0],
[69.205,0],[69.215,30],[69.225,85],[69.235,60],[69.245,0],
[69.655,0],
[69.662,200],[69.67,600],[69.68,900],[69.69,983],[69.7,1100],[69.71,1173],[69.72,1000],[69.73,850],[69.74,729],[69.75,600],[69.762,512],[69.77,711],[69.78,830],[69.79,800],[69.8,880],[69.814,928],[69.822,860],[69.83,822],[69.84,500],[69.85,300],[69.86,150],[69.875,0],
[70.19,0],
[70.2,100],[70.21,203],[70.22,339],[70.23,250],[70.24,320],[70.25,411],[70.26,380],[70.27,462],[70.28,300],[70.29,305],[70.3,180],[70.315,120],[70.33,40],[70.345,0],
[70.645,0],
[70.652,150],[70.66,400],[70.67,600],[70.68,800],[70.69,900],[70.7,950],[70.71,1050],[70.722,1111],[70.73,900],[70.738,640],[70.745,800],[70.752,950],[70.758,974],[70.765,800],[70.775,700],[70.785,500],[70.797,390],[70.81,600],[70.825,800],[70.835,900],[70.845,1010],[70.852,850],[70.861,813],[70.87,600],[70.88,300],[70.89,80],[70.9,0],
[71.265,0],
[71.272,100],[71.28,300],[71.29,500],[71.297,546],[71.305,400],[71.315,200],[71.325,80],[71.335,0],
[71.712,0],
[71.72,200],[71.73,600],[71.738,900],[71.746,1048],[71.755,900],[71.765,800],[71.775,771],[71.79,711],[71.8,600],[71.81,415],[71.82,600],[71.829,847],[71.84,800],[71.85,750],[71.86,820],[71.868,872],[71.875,700],[71.885,400],[71.895,150],[71.905,0],
[72.243,0],
[72.25,100],[72.26,300],[72.27,500],[72.28,650],[72.291,775],[72.3,650],[72.311,584],[72.32,500],[72.33,400],[72.34,330],[72.35,250],[72.36,200],[72.37,120],[72.38,40],[72.39,0],
[72.735,0],
[72.742,200],[72.75,600],[72.76,900],[72.773,1115],[72.779,1000],[72.785,991],[72.792,900],[72.8,762],[72.81,700],[72.82,600],[72.83,520],[72.836,483],[72.845,600],[72.855,700],[72.865,780],[72.875,800],[72.885,830],[72.891,851],[72.9,800],[72.908,830],[72.915,830],[72.925,500],[72.935,150],[72.945,0],
[73.288,0],
[73.295,150],[73.305,400],[73.315,700],[73.325,900],[73.33,942],[73.338,935],[73.345,850],[73.355,700],[73.365,500],[73.375,400],[73.385,500],[73.39,593],[73.4,450],[73.41,250],[73.42,80],[73.43,0],
[73.745,0],
[73.752,200],[73.76,600],[73.77,900],[73.778,1100],[73.785,1152],[73.792,1000],[73.8,900],[73.81,850],[73.82,788],[73.83,900],[73.84,868],[73.85,700],[73.858,550],[73.863,487],[73.87,600],[73.88,800],[73.89,900],[73.9,930],[73.907,940],[73.915,870],[73.923,889],[73.935,700],[73.945,450],[73.955,200],[73.965,0],
[74.285,0],
[74.292,200],[74.3,600],[74.31,850],[74.32,950],[74.33,1000],[74.337,1005],[74.345,950],[74.355,920],[74.365,898],[74.375,800],[74.385,650],[74.395,550],[74.405,500],[74.415,600],[74.425,589],[74.432,580],[74.44,400],[74.45,150],[74.46,0],
[74.765,0],
[74.772,150],[74.78,400],[74.79,650],[74.8,800],[74.808,860],[74.815,830],[74.822,700],[74.83,800],[74.839,851],[74.845,750],[74.855,600],[74.867,508],[74.88,400],[74.89,390],[74.9,450],[74.91,550],[74.92,600],[74.926,656],[74.935,500],[74.95,250],[74.965,80],[74.975,0],
[75.315,0],
[75.322,200],[75.33,305],[75.34,500],[75.35,700],[75.36,771],[75.37,800],[75.38,880],[75.392,928],[75.4,800],[75.407,745],[75.415,796],[75.425,730],[75.435,600],[75.445,500],[75.452,432],[75.465,250],[75.478,80],[75.49,0],
[75.815,0],
[75.822,100],[75.83,250],[75.84,380],[75.85,449],[75.86,420],[75.87,350],[75.88,330],[75.89,370],[75.9,398],[75.91,380],[75.92,300],[75.93,320],[75.945,339],[75.955,250],[75.97,150],[75.985,50],[76.0,0],
[76.375,0],
[76.382,150],[76.39,400],[76.4,650],[76.41,780],[76.42,822],[76.43,760],[76.44,700],[76.45,650],[76.459,627],[76.47,500],[76.48,420],[76.487,373],[76.5,200],[76.515,80],[76.53,0],
[76.805,0],
[76.812,80],[76.82,200],[76.83,300],[76.84,380],[76.85,420],[76.86,440],[76.87,430],[76.88,450],[76.89,455],[76.9,457],[76.91,440],[76.92,430],[76.93,400],[76.94,390],[76.95,380],[76.965,390],[76.975,340],[76.99,200],[77.0,80],[77.01,0],
[80,0]
];

const seriesData = [run1, run2, run3, run5];

// ---- styling ----
const FONT = '"Liberation Sans", Arial, sans-serif';
const seriesColors = ['#4472C4', '#ED7D31', '#595959', '#FFC000'];
const seriesWidths = [2.5, 2.5, 3, 2.5];
const drawOrder = [3, 2, 1, 0]; // last run painted on top
const gridColor = '#d9d9d9';
const labelColor = '#595959';

// Frame, chart title and the in-plot legend
const decorations = {
  id: 'decorations',
  beforeDraw(chart) {
    const ctx = chart.ctx;
    ctx.save();
    ctx.fillStyle = '#ffffff';
    ctx.fillRect(0, 0, chart.width, chart.height);
    ctx.restore();
  },
  afterDraw(chart) {
    const ctx = chart.ctx;
    ctx.save();
    ctx.strokeStyle = '#8c8c8c';
    ctx.lineWidth = 1.5;
    ctx.strokeRect(12.5, 8.5, 2722, 1040);

    ctx.fillStyle = '#000000';
    ctx.font = 'bold 37px ' + FONT;
    ctx.textAlign = 'center';
    ctx.textBaseline = 'middle';
    ctx.fillText(chartTitle, 1373, 55);

    const legendY = 105;
    const legendX0 = 2032;
    const itemStep = 125.7;
    const swatch = 47;
    ctx.font = '18.5px ' + FONT;
    ctx.textAlign = 'left';
    seriesNames.forEach((name, i) => {
      const x = legendX0 + i * itemStep;
      ctx.strokeStyle = seriesColors[i];
      ctx.lineWidth = 3;
      ctx.lineCap = 'butt';
      ctx.beginPath();
      ctx.moveTo(x, legendY);
      ctx.lineTo(x + swatch, legendY);
      ctx.stroke();
      ctx.fillStyle = labelColor;
      ctx.fillText(name, x + swatch + 6, legendY + 1);
    });
    ctx.restore();
  }
};

new Chart(document.getElementById('chart'), {
  type: 'line',
  data: {
    datasets: seriesNames.map((name, i) => ({
      label: name,
      data: seriesData[i].map(([x, y]) => ({ x, y })),
      borderColor: seriesColors[i],
      backgroundColor: seriesColors[i],
      borderWidth: seriesWidths[i],
      borderJoinStyle: 'round',
      borderCapStyle: 'round',
      order: drawOrder[i],
      pointRadius: 0,
      pointHoverRadius: 0,
      tension: 0,
      fill: false
    }))
  },
  options: {
    responsive: false,
    animation: false,
    devicePixelRatio: 1,
    events: [],
    layout: { padding: { top: 43, right: 60, bottom: 0, left: 0 } },
    plugins: {
      legend: { display: false },
      title: { display: false },
      tooltip: { enabled: false }
    },
    scales: {
      x: {
        type: 'linear',
        min: xRange[0],
        max: xRange[1],
        ticks: {
          stepSize: xStep, padding: 17, color: labelColor,
          font: { family: FONT, size: 19.5 },
          callback: (v) => String(v)
        },
        grid: { color: gridColor, lineWidth: 2, drawTicks: false },
        border: { display: false },
        title: {
          display: true, text: xAxisTitle, color: '#404040',
          font: { family: FONT, size: 21, weight: 'bold' },
          padding: { top: 0, bottom: 15.4 }
        },
        afterFit(scale) { scale.height = 90.5; }
      },
      y: {
        min: yRange[0],
        max: yRange[1],
        ticks: {
          stepSize: yStep, padding: 18, color: labelColor,
          font: { family: FONT, size: 19.5 },
          callback: (v) => String(v)
        },
        grid: { color: gridColor, lineWidth: 2, drawTicks: false },
        border: { display: false },
        title: {
          display: true, text: yAxisTitle, color: labelColor,
          font: { family: FONT, size: 21 },
          padding: { top: 65.4, bottom: 0 }
        },
        afterFit(scale) { scale.width = 161; }
      }
    }
  },
  plugins: [decorations]
});
</script>
</body>
</html>
